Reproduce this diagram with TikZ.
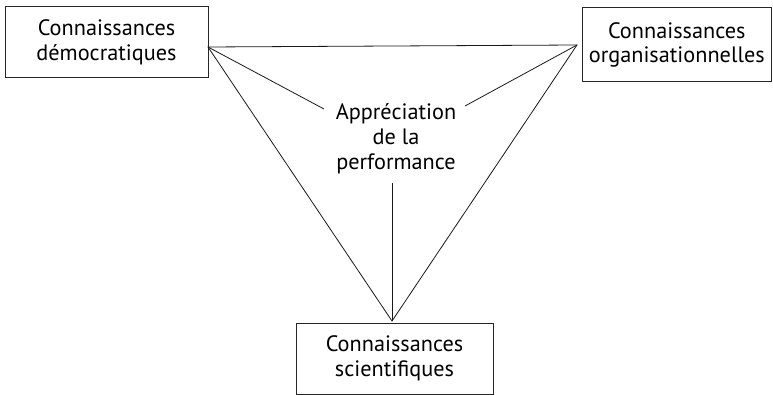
\documentclass[tikz,border=0pt]{standalone}
\usepackage{fontspec}
\setmainfont{PT Sans}
\begin{document}
\begin{tikzpicture}[x=0.75pt,y=-0.75pt,
  knowbox/.style={draw=black!85, line width=0.75pt, rectangle, inner sep=0pt,
    align=center, font=\fontsize{16.7}{18.4}\selectfont},
  edge/.style={draw=black!90, line width=0.6pt},
  centre/.style={align=center, inner sep=0pt, font=\fontsize{16.7}{18.6}\selectfont}]
\useasboundingbox (0,0) rectangle (773,395);

% the three kinds of knowledge
\node[knowbox, minimum width=203*0.75pt, minimum height=71*0.75pt] (dem) at (106.5,42.5)
  {Connaissances\\démocratiques};
\node[knowbox, minimum width=189.5*0.75pt, minimum height=74*0.75pt] (org) at (676.75,45)
  {Connaissances\\organisationnelles};
\node[knowbox, minimum width=197*0.75pt, minimum height=71*0.75pt] (sci) at (394.5,358.5)
  {Connaissances\\scientifiques};

% performance appraisal in the middle
\node[centre] (perf) at (396,139) {Appréciation\\de la\\performance};

% corners of the triangle and ends of the inner spokes
\coordinate (tl) at (208,47);
\coordinate (tr) at (577,45);
\coordinate (bt) at (392,321);
\coordinate (pl) at (324,109);
\coordinate (pr) at (465,106);
\coordinate (pb) at (392,183);

\draw[edge] (tl) -- (tr) -- (bt) -- cycle;
\draw[edge] (tl) -- (pl);
\draw[edge] (tr) -- (pr);
\draw[edge] (bt) -- (pb);
\end{tikzpicture}
\end{document}
